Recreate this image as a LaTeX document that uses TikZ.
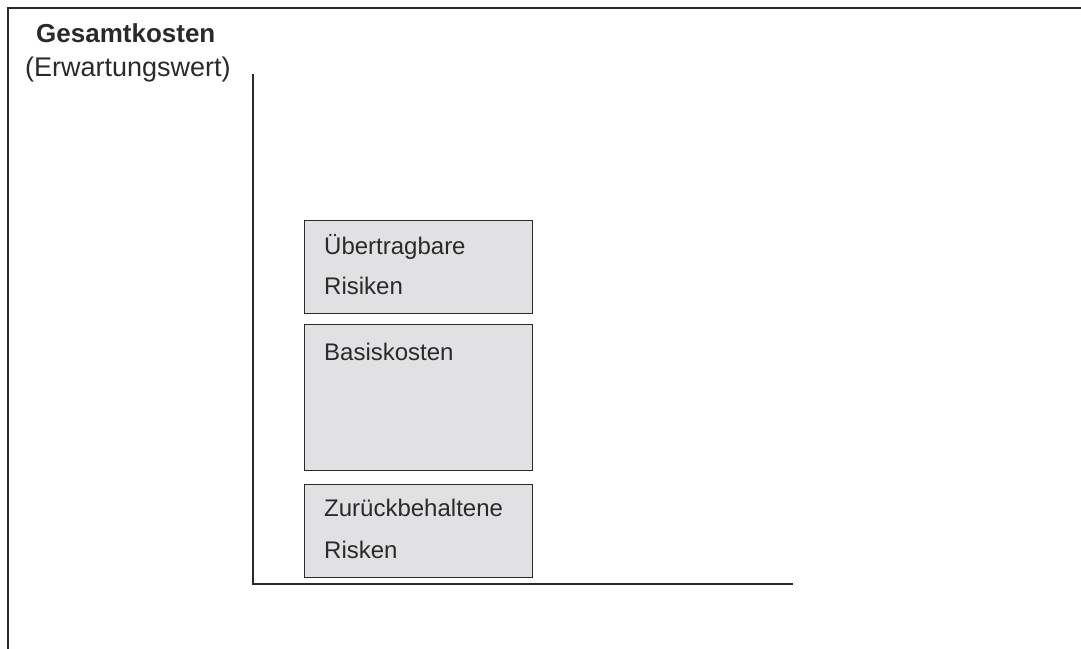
\documentclass[tikz,border=0pt]{standalone}
\usepackage{fontspec}
\setmainfont{Liberation Sans}
\definecolor{boxfill}{HTML}{E1E1E3}
\definecolor{linec}{HTML}{2A2A2A}
\begin{document}
\begin{tikzpicture}[x=1pt,y=-1pt,
  frame/.style={draw=linec,line width=1.8pt},
  axis/.style={draw=linec,line width=1.6pt},
  riskbox/.style={draw=linec,fill=boxfill,line width=1.4pt,rectangle,inner sep=0pt,minimum width=228pt,anchor=north west},
  boxtxt/.style={anchor=base west,inner sep=0pt,font=\fontsize{24}{28}\selectfont,text=linec},
  lbl/.style={anchor=base west,inner sep=0pt,font=\fontsize{27}{31}\selectfont,text=linec}]
\useasboundingbox (0,0) rectangle (1081,648);
% outer frame
\coordinate (fbl) at (8,660);
\coordinate (ftl) at (8,8);
\coordinate (ftr) at (1095,8);
\draw[frame] (fbl) -- (ftl) -- (ftr);
% axis labels
\node[lbl,font=\bfseries\fontsize{26}{30}\selectfont] (title) at (36,42) {Gesamtkosten};
\node[lbl] (sub) at (25,76) {(Erwartungswert)};
% axes
\coordinate (ytop) at (253,74);
\coordinate (origin) at (253,584);
\coordinate (xend) at (793,584);
\draw[axis] (ytop) -- (origin) -- (xend);
% boxes
\node[riskbox,minimum height=93pt] (b1) at (304,220) {};
\node[riskbox,minimum height=146pt] (b2) at (304,324) {};
\node[riskbox,minimum height=93pt] (b3) at (304,484) {};
% box texts
\node[boxtxt] (t1a) at (324,254) {Übertragbare};
\node[boxtxt] (t1b) at (324,294) {Risiken};
\node[boxtxt] (t2) at (324,360) {Basiskosten};
\node[boxtxt] (t3a) at (324,516) {Zurückbehaltene};
\node[boxtxt] (t3b) at (324,558) {Risken};
\end{tikzpicture}
\end{document}
